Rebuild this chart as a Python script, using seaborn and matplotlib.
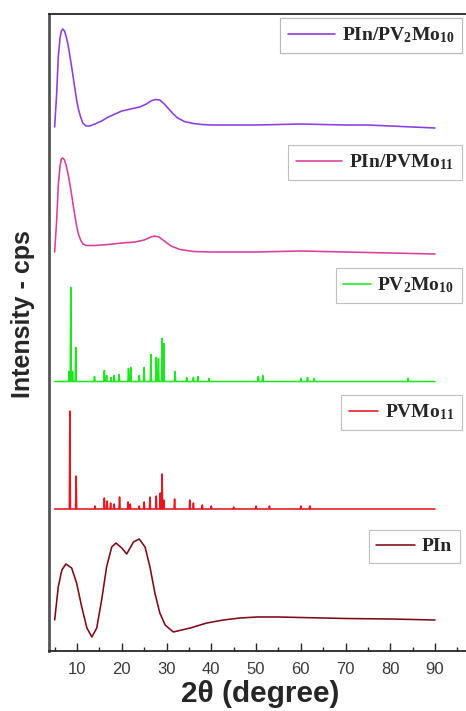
import numpy as np
import pandas as pd
import matplotlib
matplotlib.use("Agg")
import matplotlib.pyplot as plt
import seaborn as sns

# ---------------- data ----------------
# PIn (amorphous) : 2theta, intensity (a.u.)
pin_x = [5.0, 5.8, 6.6, 7.5, 8.8, 9.9, 11.05, 12.2, 13.3, 14.4, 15.5, 16.6, 17.75, 18.7,
         20.0, 21.1, 22.6, 23.9, 25.2, 26.3, 27.4, 28.5, 29.7, 31.5, 35.3, 39.0, 42.7,
         46.4, 50.2, 55.0, 60.0, 70.0, 80.0, 90.0]
pin_y = [20, 53, 70, 76, 72, 57, 33, 12, 3, 12, 40, 73, 93, 97,
         92, 86, 98, 101, 93, 73, 47, 27, 15, 8, 12, 17, 20,
         22, 23, 23, 22.5, 21.5, 21, 20]

# PIn/PVMo11
pvmo_comp_x = [5.0, 5.45, 5.8, 6.2, 6.5, 6.8, 7.2, 7.6, 8.0, 8.4, 8.8, 9.2, 9.6, 9.9,
               10.3, 10.8, 11.3, 12.0, 14.0, 17.0, 20.0, 23.0, 25.0, 26.5, 27.3, 28.3,
               29.5, 31.0, 33.0, 36.0, 40.0, 50.0, 60.0, 70.0, 80.0, 90.0]
pvmo_comp_y = [8, 40, 74, 94, 101, 102, 100, 94, 86, 76, 65, 53, 42, 34,
               26, 20, 16, 14.5, 14.5, 15.5, 17, 18, 20, 23, 24, 23,
               19, 14, 10.5, 8.5, 8, 8, 9, 8, 7, 6]

# PIn/PV2Mo10
pv2mo_comp_x = [5.0, 5.45, 5.8, 6.2, 6.5, 6.8, 7.2, 7.6, 8.0, 8.4, 8.8, 9.2, 9.6, 9.9,
                10.3, 10.8, 11.3, 12.0, 12.8, 14.0, 15.5, 17.0, 18.5, 20.0, 22.0, 24.0,
                25.5, 26.5, 27.5, 28.5, 29.5, 30.5, 31.5, 32.5, 34.0, 36.0, 38.0, 40.0,
                45.0, 50.0, 55.0, 60.0, 65.0, 70.0, 75.0, 80.0, 85.0, 90.0]
pv2mo_comp_y = [8, 42, 78, 97, 104, 106, 104, 98, 90, 79, 68, 56, 44, 35,
                26, 18, 12, 9, 9, 11, 14, 18, 21, 24, 26, 28,
                31, 34, 35.5, 35, 31, 26, 21, 17, 13.5, 11.5, 10.5, 10,
                10, 10, 10.5, 11, 10.5, 10, 10, 9, 8, 7]

# PV2Mo10 crystalline peaks
pv2mo_pos = [8.2, 8.6, 9.0, 9.7, 13.9, 16.1, 16.6, 17.6, 18.3, 19.4, 21.5, 22.0, 23.9,
             25.0, 26.5, 27.7, 28.2, 29.0, 29.4, 31.9, 34.5, 36.0, 37.0, 39.5, 50.5,
             51.5, 60.0, 61.5, 63.0, 84.0]
pv2mo_hts = [10, 94, 10, 34, 5, 11, 6, 4, 6, 7, 13, 14, 6,
             14, 27, 24, 23, 43, 38, 10, 4, 4, 5, 3, 5,
             6, 3, 4, 3, 3]

# PVMo11 crystalline peaks
pvmo_pos = [8.4, 9.8, 14.0, 16.1, 16.7, 17.5, 18.3, 19.5, 21.4, 21.9, 23.9, 25.0, 26.3,
            27.7, 28.6, 29.0, 29.4, 31.8, 35.2, 36.0, 38.0, 40.0, 45.0, 50.0, 53.0, 60.0, 62.0]
pvmo_hts = [98, 33, 3, 11, 8, 6, 5, 12, 7, 5, 3, 7, 12,
            13, 16, 35, 9, 10, 9, 6, 4, 3, 2, 3, 3, 3, 3]

labels = ["PIn", "PVMo$_{11}$", "PV$_{2}$Mo$_{10}$", "PIn/PVMo$_{11}$", "PIn/PV$_{2}$Mo$_{10}$"]
colors = ["#7d0a14", "#e8141e", "#1ee61e", "#dc3c9c", "#8a3ce6"]
offsets = [11, 142, 269.5, 391, 516]


def sticks(pos, hts, x0=5.0, x1=90.0, w=0.12):
    xs, ys = [x0], [0.0]
    for c, h in sorted(zip(pos, hts)):
        xs += [c - w, c, c + w]
        ys += [0.0, h, 0.0]
    xs.append(x1)
    ys.append(0.0)
    return xs, ys


series = [
    (pin_x, pin_y),
    sticks(pvmo_pos, pvmo_hts),
    sticks(pv2mo_pos, pv2mo_hts),
    (pvmo_comp_x, pvmo_comp_y),
    (pv2mo_comp_x, pv2mo_comp_y),
]

frames = []
for i, (xs, ys) in enumerate(series):
    frames.append(pd.DataFrame({"theta": xs,
                                "I": np.asarray(ys, float) + offsets[i],
                                "sample": labels[i]}))
df = pd.concat(frames, ignore_index=True)

# ---------------- style ----------------
sns.set_style("ticks")
plt.rcParams["font.family"] = ["Liberation Sans", "DejaVu Sans"]
plt.rcParams["mathtext.fontset"] = "custom"
plt.rcParams["mathtext.rm"] = "Liberation Serif:bold"
plt.rcParams["mathtext.it"] = "Liberation Serif:bold"
plt.rcParams["mathtext.bf"] = "Liberation Serif:bold"
plt.rcParams["mathtext.default"] = "rm"

fig = plt.figure(figsize=(4.66, 7.11), dpi=100)
ax = fig.add_axes([49.3 / 466, 1 - 651 / 711, (470.8 - 49.3) / 466, (651 - 14) / 711])

for i, lab in enumerate(labels):
    sub = df[df["sample"] == lab]
    sns.lineplot(data=sub, x="theta", y="I", ax=ax, color=colors[i], lw=1.15,
                 sort=False, estimator=None, label=lab, legend=False)

ax.set_xlim(3.8, 98)
ax.set_ylim(0, 637)
ax.set_xticks(np.arange(10, 91, 10))
ax.set_xticks(np.arange(5, 100, 10), minor=True)
ax.set_yticks([])
ax.tick_params(axis="x", which="major", direction="in", length=6, width=1.0,
               labelsize=12, labelcolor="#3a3a3a", pad=8)
ax.tick_params(axis="x", which="minor", direction="in", length=3, width=1.0)
for s in ["left", "bottom", "top", "right"]:
    ax.spines[s].set_linewidth(1.3)
ax.spines["left"].set_color("#555555")
ax.spines["left"].set_linewidth(2.0)

ax.set_xlabel("2θ (degree)", fontsize=21.5, fontweight="bold", labelpad=2)
ax.set_ylabel("Intensity - cps", fontsize=18, fontweight="bold")
ax.yaxis.set_label_coords(-0.034, 0.529)

lines = ax.get_lines()
# legend boxes: (right px, top px, handlelength)
boxes = [(460, 530, 2.0), (462, 395, 1.5), (462, 268, 1.4), (462, 145, 2.4), (462, 18, 2.4)]
for i, (rpx, tpx, hl) in enumerate(boxes):
    leg = ax.legend([lines[i]], [labels[i]], loc="upper right",
                    bbox_to_anchor=(rpx / 466, 1 - tpx / 711), bbox_transform=fig.transFigure,
                    borderaxespad=0, frameon=True, fancybox=False, edgecolor="#b0b0b0",
                    handlelength=hl, handletextpad=0.35, borderpad=0.4,
                    prop={"family": "Liberation Serif", "weight": "bold", "size": 14})
    leg.get_frame().set_linewidth(0.8)
    ax.add_artist(leg)

fig.savefig("out.png", dpi=100)
